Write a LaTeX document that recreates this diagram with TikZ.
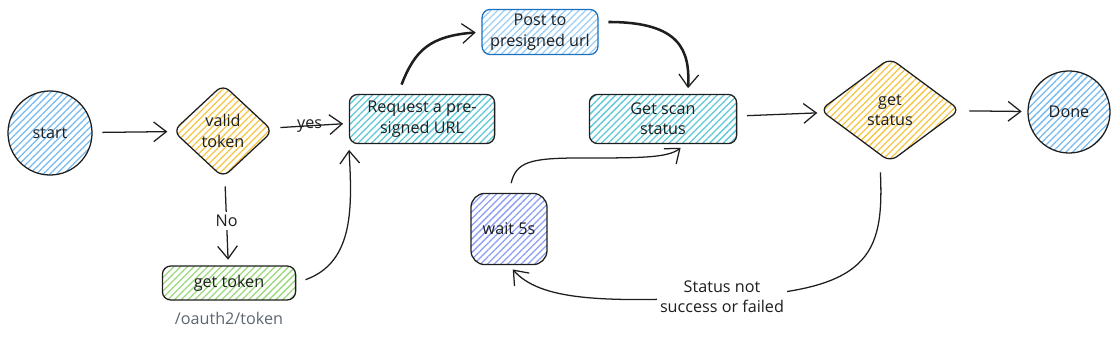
\documentclass[tikz,border=0pt]{standalone}
\usepackage{fontspec}
\setmainfont{Open Sans}
\usetikzlibrary{shapes.geometric,arrows.meta,patterns.meta}

\definecolor{inkblack}{HTML}{1E1E1E}
\definecolor{hatchblue}{HTML}{74B9F0}
\definecolor{hatchyellow}{HTML}{F5C542}
\definecolor{hatchcyan}{HTML}{5CC8D6}
\definecolor{hatchgreen}{HTML}{9AD97A}
\definecolor{hatchindigo}{HTML}{8C9EF5}
\definecolor{strokeblue}{HTML}{1971C2}
\definecolor{notegray}{HTML}{5C6670}

\tikzset{
    base/.style={draw=inkblack, line width=0.9pt, align=center, inner sep=0pt,
        text=inkblack, font=\fontsize{11.5}{14.5}\selectfont},
    hatch/.style={pattern={Lines[angle=45,distance=3.4pt,line width=0.9pt]}, pattern color=#1},
    roundbox/.style={base, rectangle, rounded corners=6pt},
    decision/.style={base, diamond, rounded corners=6pt},
    terminal/.style={base, circle},
    flow/.style={draw=inkblack, line width=0.9pt,
        -{Straight Barb[length=9pt,width=14pt,line width=0.9pt]},
        shorten <=7pt, shorten >=4pt},
    boldflow/.style={flow, line width=1.8pt},
    edgelabel/.style={fill=white, inner sep=2pt, align=center, text=inkblack,
        font=\fontsize{11.5}{14.5}\selectfont}
}

\begin{document}
\begin{tikzpicture}[x=0.025cm, y=-0.025cm]
    \useasboundingbox (0,0) rectangle (1120,339);

    % top row
    \node[terminal, hatch=hatchblue, minimum size=2.1cm] (start) at (50,133) {start};
    \node[decision, hatch=hatchyellow, minimum width=2.5cm, minimum height=2.33cm] (valid) at (223,131) {valid\\token};
    \node[roundbox, hatch=hatchcyan, minimum width=3.63cm, minimum height=1.23cm] (req) at (422,119) {Request a pre-\\signed URL};
    \node[roundbox, hatch=hatchblue!70, draw=strokeblue, minimum width=2.9cm, minimum height=1.13cm] (post) at (540,32) {Post to\\presigned url};
    \node[roundbox, hatch=hatchcyan, minimum width=3.68cm, minimum height=1.23cm] (scan) at (663,119) {Get scan\\status};
    \node[decision, hatch=hatchyellow, minimum width=3.5cm, minimum height=2.6cm] (status) at (890,110) {get\\status};
    \node[terminal, hatch=hatchblue, minimum size=2.05cm] (done) at (1069,112) {Done};

    % bottom row
    \node[roundbox, hatch=hatchgreen, minimum width=3.33cm, minimum height=0.85cm] (token) at (229,283) {get token};
    \node[text=notegray, font=\fontsize{11.5}{14.5}\selectfont] (tokenurl) at (229,318) {/oauth2/token};
    \node[roundbox, hatch=hatchindigo, rounded corners=10pt, minimum width=1.9cm, minimum height=1.78cm] (wait) at (509,229) {wait 5s};

    % connectors
    \draw[flow] (start) -- (valid);
    \draw[flow] (valid) -- node[edgelabel, fill=none] {yes} (req);
    \draw[flow] (valid) -- node[edgelabel] {No} (token);
    \draw[flow] (token.east) .. controls (355,262) and (352,205) .. (req.south west);
    \draw[boldflow] ([xshift=-0.6cm]req.north) .. controls (415,50) and (430,36) .. (post.west);
    \draw[boldflow] ([yshift=0.25cm]post.east) .. controls (680,22) and (690,50) .. ([xshift=0.62cm]scan.north);
    \draw[flow] (scan) -- (status);
    \draw[flow] (status) -- (done);
    \draw[flow] ([xshift=-0.25cm]status.south) .. controls (884,255) and (870,292) .. (722,297)
        node[edgelabel] (loop) {Status not\\success or failed}
        .. controls (600,303) and (540,300) .. (wait.south);
    \draw[flow] (wait.north) .. controls (516,162) and (530,158) .. (580,158)
        .. controls (640,158) and (668,158) .. ([xshift=0.55cm]scan.south);
\end{tikzpicture}
\end{document}
